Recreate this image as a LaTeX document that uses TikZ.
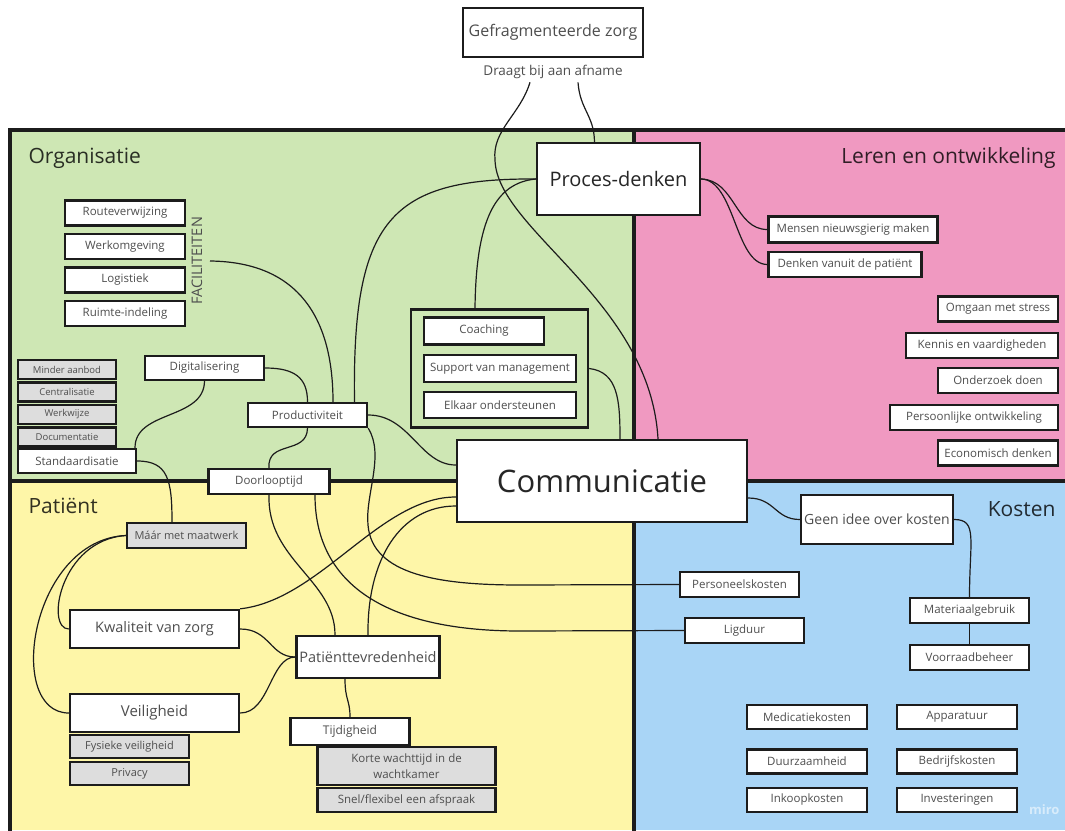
\documentclass[tikz,border=0pt]{standalone}
\usepackage{fontspec}
\setmainfont{Open Sans}
\definecolor{orgfill}{RGB}{206,231,180}
\definecolor{lerenfill}{RGB}{240,153,193}
\definecolor{patfill}{RGB}{254,246,168}
\definecolor{kostfill}{RGB}{169,213,246}
\definecolor{boxgrey}{RGB}{221,221,221}
\definecolor{lineclr}{RGB}{28,28,28}
\definecolor{boxtext}{RGB}{78,78,78}
\tikzset{every node/.style={text=boxtext},
box/.style={ % white card with a heavy frame
draw=lineclr,
line width=2.4pt,
fill=white,
inner sep=0pt,
font=\fontsize{11.5}{13}\selectfont},
greybox/.style={box, fill=boxgrey, font=\fontsize{9.5}{11}\selectfont}, % sub items
bigbox/.style={box, font=\fontsize{14.5}{17}\selectfont},
area/.style={font=\fontsize{21}{24}\selectfont, text=black, text opacity=0.8}, % quadrant titles
link/.style={ % connectors between cards
draw=lineclr,
line width=1.2pt}}

\begin{document}
\begin{tikzpicture}[x=1pt,y=-1pt]
\useasboundingbox (0,0) rectangle (1065,830);
% quadrants
\fill[orgfill] (10,130) rectangle (634,481);
\fill[lerenfill] (634,130) rectangle (1065,481);
\fill[patfill] (10,481) rectangle (634,830);
\fill[kostfill] (634,481) rectangle (1065,830);
\draw[lineclr, line width=4pt] (10,832) -- (10,130) -- (1068,130);
\draw[lineclr, line width=4pt] (634,130) -- (634,832);
\draw[lineclr, line width=4pt] (10,481) -- (1068,481);

\node[area, anchor=west] (org) at (25,158) {Organisatie};
\node[area, anchor=east] (leren) at (1059,158) {Leren en ontwikkeling};
\node[area, anchor=west] (pat) at (25,506) {Patiënt};
\node[area, anchor=east] (kosten) at (1059,509) {Kosten};

% top
\node[box, minimum width=180, minimum height=49, font=\fontsize{16}{19}\selectfont] (gefr) at (553,32.5) {Gefragmenteerde zorg};
\node[font=\fontsize{13.5}{16}\selectfont] (draagt) at (553,72) {Draagt bij aan afname};
\node[box, minimum width=163, minimum height=72, font=\fontsize{20}{24}\selectfont, text=black!85] (proces) at (618.5,179) {Proces-denken};

% organisatie
\node[box, minimum width=120, minimum height=25] (route) at (125,213) {Routeverwijzing};
\node[box, minimum width=120, minimum height=25] (werk) at (125,246.5) {Werkomgeving};
\node[box, minimum width=120, minimum height=25] (logi) at (125,280) {Logistiek};
\node[box, minimum width=120, minimum height=25] (ruimte) at (125,313.5) {Ruimte-indeling};
\node[rotate=90, font=\fontsize{14.5}{17}\selectfont, inner sep=0pt] (facil) at (197,261) {FACILITEITEN};
\node[greybox, minimum width=98, minimum height=19] (minder) at (67,369.5) {Minder aanbod};
\node[greybox, minimum width=98, minimum height=19] (centr) at (67,392) {Centralisatie};
\node[greybox, minimum width=98, minimum height=19] (werkw) at (67,414.5) {Werkwijze};
\node[greybox, minimum width=98, minimum height=19] (docu) at (67,437) {Documentatie};
\node[box, minimum width=118, minimum height=24] (stand) at (77,461) {Standaardisatie};
\node[box, minimum width=119, minimum height=24] (digi) at (204.5,368) {Digitalisering};
\node[box, minimum width=119, minimum height=24] (prod) at (307.5,415) {Productiviteit};
\node[draw=lineclr, line width=2.4pt, minimum width=177, minimum height=118, inner sep=0pt] (grp) at (499.5,368.5) {};
\node[box, minimum width=120, minimum height=27] (coach) at (484,331) {Coaching};
\node[box, minimum width=152, minimum height=27] (sup) at (500,368.5) {Support van management};
\node[box, minimum width=152, minimum height=26] (elk) at (500,405) {Elkaar ondersteunen};

% leren en ontwikkeling
\node[box, minimum width=169, minimum height=26] (mensen) at (853,229.5) {Mensen nieuwsgierig maken};
\node[box, minimum width=153, minimum height=25] (denken) at (845,264.5) {Denken vanuit de patiënt};
\node[box, minimum width=120, minimum height=25] (stress) at (998,309) {Omgaan met stress};
\node[box, minimum width=152, minimum height=25] (kennis) at (982,345.5) {Kennis en vaardigheden};
\node[box, minimum width=120, minimum height=25] (onderz) at (998,380.5) {Onderzoek doen};
\node[box, minimum width=168, minimum height=25] (persont) at (974,417.5) {Persoonlijke ontwikkeling};
\node[box, minimum width=120, minimum height=25] (econ) at (998,453) {Economisch denken};

\node[box, minimum width=121, minimum height=25] (door) at (269,481.5) {Doorlooptijd};
\node[box, minimum width=290, minimum height=82, font=\fontsize{31}{36}\selectfont, text=black!85] (comm) at (602,481) {Communicatie};

% patient
\node[greybox, minimum width=119, minimum height=25, font=\fontsize{11}{13}\selectfont] (maar) at (186.5,535.5) {Máár met maatwerk};
\node[bigbox, minimum width=169, minimum height=38] (kwal) at (154.5,629) {Kwaliteit van zorg};
\node[box, minimum width=143, minimum height=42, font=\fontsize{14.5}{17}\selectfont] (patt) at (368,657) {Patiënttevredenheid};
\node[bigbox, minimum width=169, minimum height=38, font=\fontsize{15}{18}\selectfont] (veil) at (154.5,713) {Veiligheid};
\node[greybox, minimum width=119, minimum height=23, font=\fontsize{11}{13}\selectfont] (fysiek) at (129.5,746.5) {Fysieke veiligheid};
\node[greybox, minimum width=119, minimum height=23, font=\fontsize{11}{13}\selectfont] (priv) at (129.5,773.5) {Privacy};
\node[box, minimum width=119, minimum height=27, font=\fontsize{12}{14}\selectfont] (tijd) at (350,731.5) {Tijdigheid};
\node[greybox, minimum width=178, minimum height=38, align=center, font=\fontsize{11.5}{16}\selectfont] (korte) at (406.5,766) {Korte wachttijd in de\\wachtkamer};
\node[greybox, minimum width=178, minimum height=24, font=\fontsize{11.5}{13}\selectfont] (snel) at (406.5,800) {Snel/flexibel een afspraak};

% kosten
\node[box, minimum width=152, minimum height=49, font=\fontsize{14}{17}\selectfont] (geen) at (877,519.5) {Geen idee over kosten};
\node[box, minimum width=119, minimum height=25] (perso) at (739.5,584.5) {Personeelskosten};
\node[box, minimum width=119, minimum height=25] (lig) at (744.5,630.5) {Ligduur};
\node[box, minimum width=119, minimum height=25] (mat) at (969.5,610.5) {Materiaalgebruik};
\node[box, minimum width=119, minimum height=25] (voor) at (969.5,657.5) {Voorraadbeheer};
\node[box, minimum width=120, minimum height=24] (medic) at (807,717) {Medicatiekosten};
\node[box, minimum width=120, minimum height=24] (appar) at (957,717) {Apparatuur};
\node[box, minimum width=120, minimum height=24] (duurz) at (807,761.5) {Duurzaamheid};
\node[box, minimum width=120, minimum height=24] (bedr) at (957,761.5) {Bedrijfskosten};
\node[box, minimum width=120, minimum height=24] (inkoop) at (807,800) {Inkoopkosten};
\node[box, minimum width=120, minimum height=24] (invest) at (957,800) {Investeringen};
\node[anchor=east, text=white!55!kostfill, font=\fontsize{13}{16}\selectfont\bfseries] (miro) at (1063,810) {miro};

% connectors
\draw[link] ([xshift=-23pt]draagt.south) .. controls (520,115) and (492,130) .. (495,160) .. controls (497,230) and (650,300) .. ([xshift=56pt]comm.north);
\draw[link] ([xshift=25pt]draagt.south) .. controls (580,110) and (594,115) .. ([xshift=-24pt]proces.north);
\draw[link] (proces.west) .. controls (390,178) and (352,220) .. ([xshift=47pt]prod.north);
\draw[link] (proces.west) .. controls (495,183) and (476,220) .. ([xshift=-24.5pt]grp.north);
\draw[link] (proces.east) .. controls (735,180) and (735,229.5) .. (mensen.west);
\draw[link] (proces.east) .. controls (735,180) and (735,264.5) .. (denken.west);
\draw[link] ([xshift=13pt]facil.center) .. controls (300,262) and (333,320) .. ([xshift=25.5pt]prod.north);
\draw[link] (digi.east) .. controls (295,368) and (307.5,378) .. (prod.north);
\draw[link] (digi.south) .. controls (204,420) and (135,410) .. ([xshift=58pt]stand.north);
\draw[link] (prod.south) .. controls (307,455) and (267,440) .. (door.north);
\draw[link] (prod.east) .. controls (410,415) and (420,465) .. ([yshift=16pt]comm.west);
\draw[link] (prod.south east) .. controls (385,455) and (365,495) .. (368,525) .. controls (372,575) and (440,585) .. (520,585) -- (perso.west);
\draw[link] ([xshift=46pt]door.south) .. controls (315,580) and (380,631) .. (520,631) -- (lig.west);
\draw[link] (door.south) .. controls (267,560) and (335,580) .. ([xshift=-33pt]patt.north);
\draw[link] (stand.east) .. controls (168,461) and (172,480) .. ([xshift=-14.5pt]maar.north);
\draw[link] (maar.west) .. controls (60,540) and (45,629) .. (kwal.west);
\draw[link] (maar.west) .. controls (30,540) and (5,713) .. (veil.west);
\draw[link] (kwal.east) .. controls (270,629) and (270,657) .. (patt.west);
\draw[link] (veil.east) .. controls (270,713) and (270,657) .. (patt.west);
\draw[link] (kwal.north east) .. controls (320,600) and (380,497) .. ([yshift=-16pt]comm.west);
\draw[link] (patt.north) .. controls (367,560) and (400,506) .. ([yshift=-25pt]comm.west);
\draw[link] ([xshift=-23pt]patt.south) .. controls (345,700) and (350,700) .. (tijd.north);
\draw[link] (grp.east |- sup.east) .. controls (618,372) and (620,400) .. ([xshift=18pt]comm.north);
\draw[link] ([yshift=-17pt]comm.east) .. controls (775,498) and (775,519.5) .. (geen.west);
\draw[link] (geen.east) .. controls (978,519.5) and (969.5,540) .. (mat.north);
\draw[link] (mat.south) -- (voor.north);
\end{tikzpicture}
\end{document}
